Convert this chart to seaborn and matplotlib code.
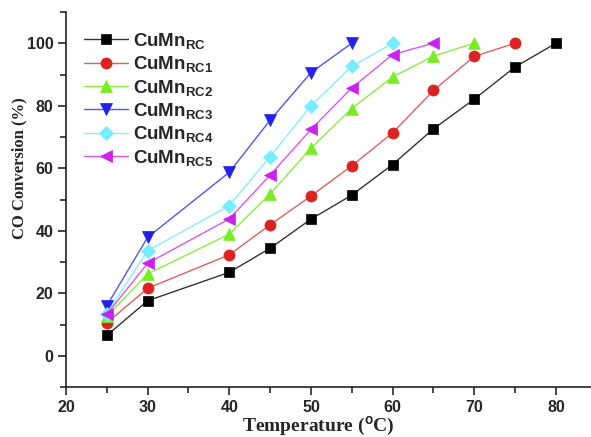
import matplotlib
matplotlib.use("Agg")
import matplotlib.pyplot as plt
import seaborn as sns
import pandas as pd
import numpy as np
from matplotlib.ticker import MultipleLocator

sns.set_style("ticks")
plt.rcParams['font.family'] = ['Liberation Sans', 'DejaVu Sans']
plt.rcParams['mathtext.fontset'] = 'custom'
plt.rcParams['mathtext.rm'] = 'Liberation Sans:bold'
plt.rcParams['mathtext.bf'] = 'Liberation Sans:bold'
plt.rcParams['mathtext.it'] = 'Liberation Sans:bold'

# Data
temp_rc = [25, 30, 40, 45, 50, 55, 60, 65, 70, 75, 80]
conv_rc = [6.5, 17.6, 26.7, 34.4, 43.7, 51.4, 61.2, 72.6, 82.1, 92.4, 100]
temp_rc1 = [25, 30, 40, 45, 50, 55, 60, 65, 70, 75]
conv_rc1 = [10.5, 21.6, 32.3, 41.9, 51.1, 60.8, 71.3, 84.9, 95.8, 100]
temp_rc2 = [25, 30, 40, 45, 50, 55, 60, 65, 70]
conv_rc2 = [12.6, 26.2, 38.9, 51.8, 66.4, 79.1, 89.2, 95.9, 100]
temp_rc3 = [25, 30, 40, 45, 50, 55]
conv_rc3 = [16.0, 37.9, 58.7, 75.4, 90.6, 100]
temp_rc4 = [25, 30, 40, 45, 50, 55, 60]
conv_rc4 = [13.5, 33.6, 48.0, 63.7, 80.0, 92.6, 100]
temp_rc5 = [25, 30, 40, 45, 50, 55, 60, 65]
conv_rc5 = [13.3, 29.6, 43.8, 57.8, 72.4, 85.7, 96.4, 100]

labels = ['RC', 'RC1', 'RC2', 'RC3', 'RC4', 'RC5']
temps = [temp_rc, temp_rc1, temp_rc2, temp_rc3, temp_rc4, temp_rc5]
convs = [conv_rc, conv_rc1, conv_rc2, conv_rc3, conv_rc4, conv_rc5]
colors = ['#000000', '#dd2222', '#77ee22', '#2222ee', '#77eeff', '#cc22ee']
line_colors = ['#333333', '#e06060', '#88ee44', '#5555ee', '#88eeff', '#dd55ee']
markers = ['s', 'o', '^', 'v', 'D', '<']
msizes = [7, 8, 8.5, 8.5, 7, 8.5]

fig = plt.figure(figsize=(5.91, 4.37), dpi=100)
ax = fig.add_axes([66/591, 1-387/437, 1-66/591, (387-12)/437])

for lab, t, c, col, lcol, m, ms in zip(labels, temps, convs, colors, line_colors, markers, msizes):
    df = pd.DataFrame({'T': t, 'C': c})
    sns.lineplot(data=df, x='T', y='C', ax=ax, color=lcol, linewidth=1.0,
                 marker=m, markersize=ms, markerfacecolor=col, markeredgecolor=col,
                 markeredgewidth=0.5, label=r'CuMn$_{\mathrm{%s}}$' % lab)

ax.set_xlim(20, 84.3)
ax.set_ylim(-10, 110)
ax.xaxis.set_major_locator(MultipleLocator(10))
ax.xaxis.set_minor_locator(MultipleLocator(5))
ax.yaxis.set_major_locator(MultipleLocator(20))
ax.yaxis.set_minor_locator(MultipleLocator(10))
ax.set_yticks([0, 20, 40, 60, 80, 100])
ax.tick_params(axis='both', which='major', direction='out', length=6, width=1.2,
               labelsize=11.5, pad=3)
ax.tick_params(axis='both', which='minor', direction='out', length=4, width=1.2)
for lbl in ax.get_xticklabels() + ax.get_yticklabels():
    lbl.set_fontweight('bold')

for s in ['top', 'right']:
    ax.spines[s].set_visible(False)
for s in ['left', 'bottom']:
    ax.spines[s].set_linewidth(1.2)
    ax.spines[s].set_color('#222222')

ax.set_xlabel(r'Temperature ($^{\rm o}$C)', fontfamily='Liberation Serif',
              fontweight='bold', fontsize=14)
ax.set_ylabel('CO Conversion (%)', fontfamily='Liberation Serif',
              fontweight='bold', fontsize=12)
ax.xaxis.set_label_coords((318-66)/(591-66), -(415-387)/375)
ax.yaxis.set_label_coords(-(66-27)/525, (387-168)/375)

leg = ax.legend(loc='upper left', bbox_to_anchor=(0.01, 0.985), frameon=False,
                fontsize=13.5, handlelength=2.3, labelspacing=0.18,
                handletextpad=0.3, borderaxespad=0.3)
for txt in leg.get_texts():
    txt.set_fontweight('bold')

fig.savefig('out.png', dpi=100)
